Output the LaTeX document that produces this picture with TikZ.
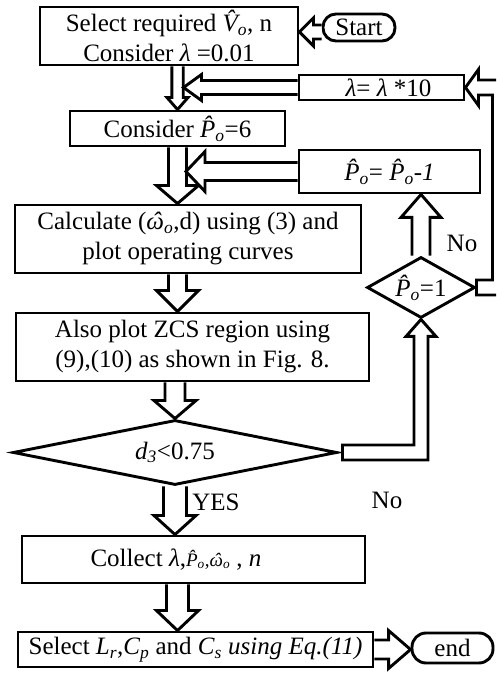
\documentclass[tikz,border=0pt]{standalone}
\usepackage{fontspec}
\setmainfont{Liberation Serif}
\usetikzlibrary{shapes.geometric,calc}
\newcommand\hatP{\textit{\^{P}\textsubscript{o}}}
\newcommand\hatw{\textit{\ooalign{ω\cr\hidewidth\kern0.1em ˆ\hidewidth\cr}\textsubscript{o}}}
% straight hollow block arrows: #1 start, #2 tip, #3 shaft half width, #4 head half width, #5 head length
\newcommand\dblk[5]{\draw[blk] let \p1=(#1),\p2=(#2) in (\x2-#3pt,\y1)--(\x2-#3pt,\y2+#5pt)--(\x2-#4pt,\y2+#5pt)--(\x2,\y2)--(\x2+#4pt,\y2+#5pt)--(\x2+#3pt,\y2+#5pt)--(\x2+#3pt,\y1);}
\newcommand\ublk[5]{\draw[blk] let \p1=(#1),\p2=(#2) in (\x2-#3pt,\y1)--(\x2-#3pt,\y2-#5pt)--(\x2-#4pt,\y2-#5pt)--(\x2,\y2)--(\x2+#4pt,\y2-#5pt)--(\x2+#3pt,\y2-#5pt)--(\x2+#3pt,\y1);}
\newcommand\lblk[5]{\draw[blk] let \p1=(#1),\p2=(#2) in (\x1,\y2+#3pt)--(\x2+#5pt,\y2+#3pt)--(\x2+#5pt,\y2+#4pt)--(\x2,\y2)--(\x2+#5pt,\y2-#4pt)--(\x2+#5pt,\y2-#3pt)--(\x1,\y2-#3pt);}
\newcommand\rblk[5]{\draw[blk] let \p1=(#1),\p2=(#2) in (\x1,\y2+#3pt)--(\x2-#5pt,\y2+#3pt)--(\x2-#5pt,\y2+#4pt)--(\x2,\y2)--(\x2-#5pt,\y2-#4pt)--(\x2-#5pt,\y2-#3pt)--(\x1,\y2-#3pt);}
\begin{document}
\begin{tikzpicture}[x=1pt,y=1pt,font=\fontsize{25}{30}\selectfont,
  box/.style={draw,line width=2.9pt,inner sep=0pt,align=center},
  term/.style={draw,line width=2.9pt,inner sep=0pt,rounded corners=13pt},
  dia/.style={draw,diamond,line width=2.9pt,inner sep=0pt},
  blk/.style={draw,line width=2.9pt,fill=white,line join=miter},
  lbl/.style={inner sep=0pt}]
\clip (0,0) rectangle (496,677);
\useasboundingbox (0,0) rectangle (496,677);
% nodes
\node[box,minimum width=258pt,minimum height=58pt] (b1) at (169,641)
  {Select required \textit{\^{V}\textsubscript{o}}, n\\Consider \textit{λ} =0.01};
\node[term,minimum width=72pt,minimum height=27pt] (start) at (359,649.5) {Start};
\node[box,minimum width=165pt,minimum height=25pt] (lam) at (381.5,589.5) {\hspace*{14pt}\textit{λ}= \textit{λ} *10};
\node[box,minimum width=215pt,minimum height=35pt] (b2) at (177.5,548.5) {Consider \hatP=6};
\node[box,minimum width=181pt,minimum height=43pt] (pm) at (389.5,505.5) {\hatP= \textit{\^{P}\textsubscript{o}-1}};
\node[box,minimum width=346pt,minimum height=68pt] (b3) at (188,438)
  {Calculate (\hatw,d) using (3) and\\plot operating curves};
\node[box,minimum width=353pt,minimum height=68pt] (b4) at (192.5,330)
  {Also plot ZCS region using\\(9),(10) as shown in Fig. 8.};
\node[dia,shape aspect=5,minimum width=324pt,minimum height=65pt] (d3) at (175,224.5)
  {\textit{d}\textsubscript{\textit{3}}<0.75};
\node[dia,shape aspect=1.77,minimum width=108pt,minimum height=61pt] (dp) at (421,389.5) {\hatP=1};
\node[box,minimum width=343pt,minimum height=47pt] (b5) at (193.5,117.5)
  {Collect \textit{λ},{\fontsize{19}{20}\selectfont\hatP,\hatw} , \textit{n}\hspace*{35pt}};
\node[box,minimum width=355pt,minimum height=35pt] (b6) at (195.5,27.5)
  {Select \textit{L\textsubscript{r}},\textit{C\textsubscript{p}} and \textit{C\textsubscript{s}} \textit{using Eq.(11)}};
\node[term,minimum width=81pt,minimum height=30pt,rounded corners=14pt] (end) at (452.5,29) {end};
\node[lbl] (no1) at (462,434) {No};
\node[lbl] (no2) at (387,177) {No};
\node[lbl] (yes) at (216,175) {YES};
% helper coordinates
\coordinate (mx) at (177.5,0);
\coordinate (s1) at (183.5,0);
\coordinate (s2) at (186,0);
\coordinate (a0) at (0,645);
\coordinate (rx) at (500,0);
% main flow arrows
\lblk{start.west |- a0}{b1.east |- a0}{7}{14}{14}
\dblk{b1.south -| mx}{b2.north -| mx}{5.7}{10.5}{12}
\lblk{lam.west}{lam.west -| s1}{7}{13}{18}
\dblk{b2.south -| mx}{b3.north -| mx}{9}{21}{18}
\lblk{pm.west}{pm.west -| s2}{9}{20}{19}
\dblk{b3.south -| mx}{b4.north -| mx}{9}{21}{21}
\dblk{b4.south -| mx}{d3.north}{10}{21}{18}
\dblk{d3.south}{b5.north -| d3.south}{11.5}{21}{19}
\dblk{b5.south -| mx}{b6.north -| mx}{11}{21}{20}
\rblk{b6.east}{end.west |- b6.east}{9.5}{19}{22}
\ublk{dp.north}{pm.south -| dp.north}{9}{20}{23}
% elbow: d3 -> dp
\draw[blk] let \p1=(d3.east), \p2=(dp.south) in
  (\x1+4pt,\y1-7.5pt) -- (\x2+7pt,\y1-7.5pt) -- (\x2+7pt,\y2-17pt) -- (\x2+15pt,\y2-17pt)
  -- (\x2,\y2) -- (\x2-15pt,\y2-17pt) -- (\x2-7pt,\y2-17pt) -- (\x2-7pt,\y1+7.5pt)
  -- (\x1+4pt,\y1+7.5pt) -- cycle;
% elbow: dp -> lam
\draw[blk] let \p1=(dp.east), \p2=(lam.east), \p3=(rx) in
  (\x1,\y1-7.5pt) -- (\x3+7.5pt,\y1-7.5pt) -- (\x3+7.5pt,\y2+7.5pt) -- (\x2+13pt,\y2+7.5pt)
  -- (\x2+13pt,\y2+18pt) -- (\x2,\y2) -- (\x2+13pt,\y2-18pt) -- (\x2+13pt,\y2-7.5pt)
  -- (\x3-7.5pt,\y2-7.5pt) -- (\x3-7.5pt,\y1+7.5pt) -- (\x1,\y1+7.5pt) -- cycle;
\end{tikzpicture}
\end{document}
